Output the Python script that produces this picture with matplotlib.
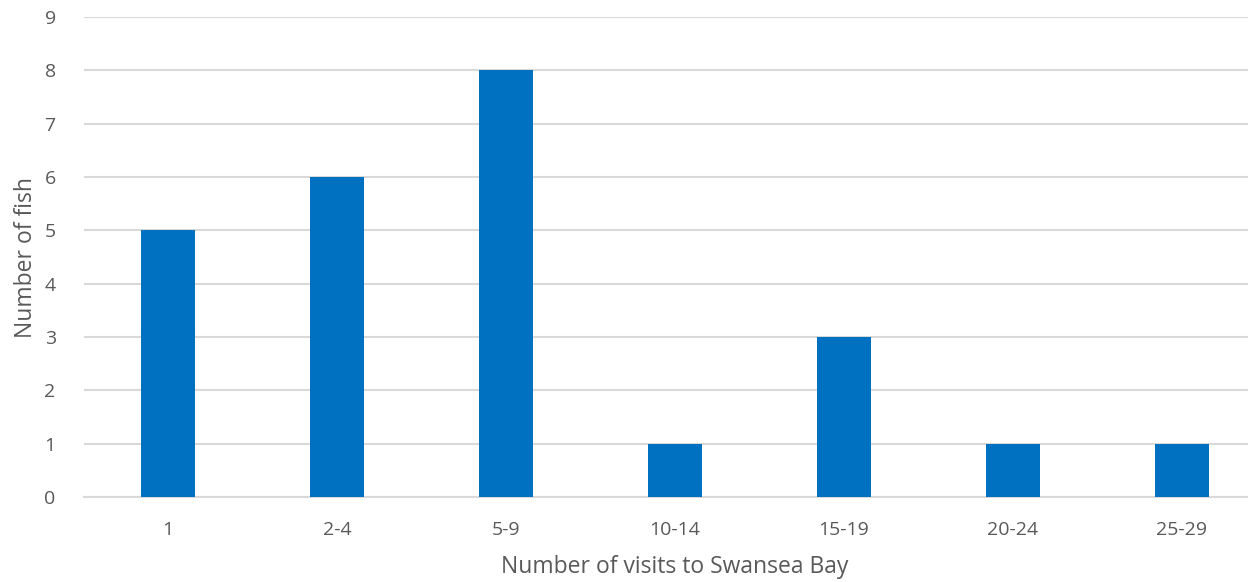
import matplotlib.pyplot as plt

categories = ['1', '2-4', '5-9', '10-14', '15-19', '20-24', '25-29']
fish_counts = [5, 6, 8, 1, 3, 1, 1]
y_ticks = list(range(0, 10))

plt.rcParams['font.family'] = ['Open Sans', 'DejaVu Sans']
text_color = '#595959'
grid_color = '#D9D9D9'

W, H = 1248, 582
fig = plt.figure(figsize=(W / 100, H / 100), dpi=100)
# plot area runs a little past the right edge of the figure
ax = fig.add_axes([83.5 / W, 85 / H, 1183 / W, 480 / H])

x = range(len(categories))
ax.bar(x, fish_counts, width=0.32, color='#0070C0', zorder=3)

ax.set_xlim(-0.5, len(categories) - 0.5)
ax.set_ylim(0, 9)
ax.set_yticks(y_ticks)
ax.set_xticks(list(x))
ax.set_xticklabels(categories)

ax.yaxis.grid(True, color=grid_color, linewidth=1.5, zorder=0)
ax.set_axisbelow(True)
for side in ['top', 'right', 'left']:
    ax.spines[side].set_visible(False)
ax.spines['bottom'].set_color(grid_color)
ax.spines['bottom'].set_linewidth(1.5)

ax.tick_params(axis='both', length=0, labelsize=14, colors=text_color)
ax.tick_params(axis='y', pad=20)
ax.tick_params(axis='x', pad=17)

ax.set_xlabel('Number of visits to Swansea Bay', fontsize=16.5, color=text_color)
ax.set_ylabel('Number of fish', fontsize=16.5, color=text_color)
ax.xaxis.set_label_coords((675 - 83.5) / 1183, -(555 - 497) / 480)
ax.yaxis.set_label_coords(-(83.5 - 38) / 1183, 0.5)

fig.savefig('out.png', dpi=100)
